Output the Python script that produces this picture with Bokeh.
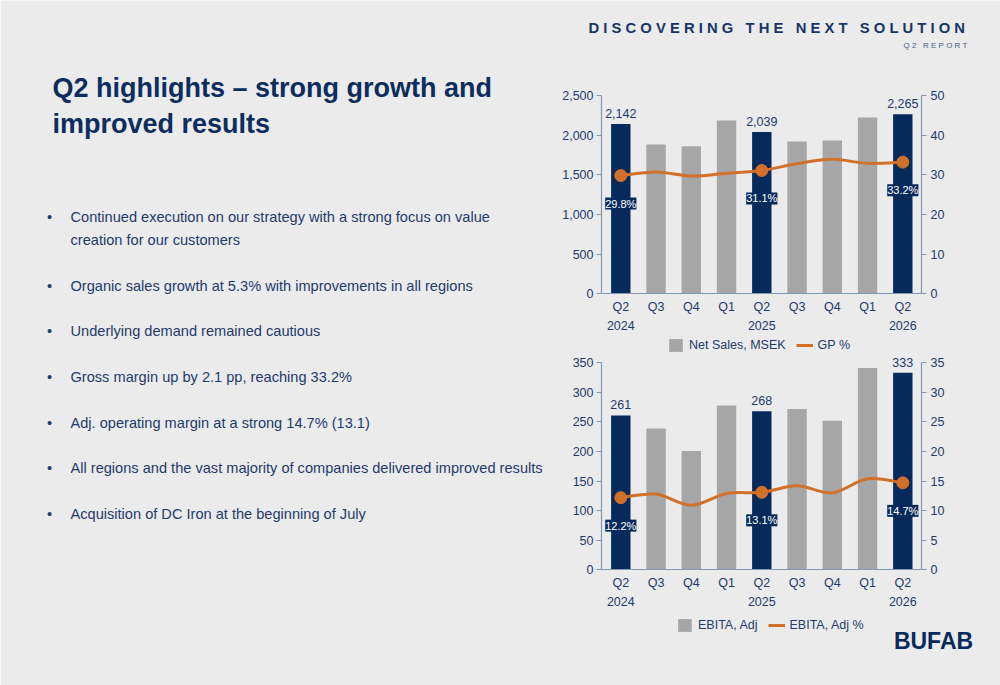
from bokeh.plotting import figure
from bokeh.models import (Range1d, LinearAxis, FixedTicker, NumeralTickFormatter,
                          ColumnDataSource, LabelSet, Legend, LegendItem)
from bokeh.embed import file_html
from bokeh.resources import INLINE
from bokeh.core.properties import value

# ---------------- data ----------------
quarters = ["Q2", "Q3", "Q4", "Q1", "Q2", "Q3", "Q4", "Q1", "Q2"]
years = ["2024", "", "", "", "2025", "", "", "", "2026"]
highlight = [True, False, False, False, True, False, False, False, True]

net_sales = [2142, 1881, 1861, 2185, 2039, 1920, 1933, 2223, 2265]
gp_pct = [29.8, 30.7, 29.7, 30.4, 31.1, 32.8, 33.9, 32.9, 33.2]

ebita_adj = [261, 239, 201, 278, 268, 272, 252, 341, 333]
ebita_pct = [12.2, 12.8, 10.9, 12.9, 13.1, 14.2, 13.0, 15.4, 14.7]

sales_ticks = [0, 500, 1000, 1500, 2000, 2500]
gp_ticks = [0, 10, 20, 30, 40, 50]
ebita_ticks = [0, 50, 100, 150, 200, 250, 300, 350]
ebita_pct_ticks = [0, 5, 10, 15, 20, 25, 30, 35]

title_lines = ["Q2 highlights \u2013 strong growth and", "improved results"]
bullets = [
    ["Continued execution on our strategy with a strong focus on value",
     "creation for our customers"],
    ["Organic sales growth at 5.3% with improvements in all regions"],
    ["Underlying demand remained cautious"],
    ["Gross margin up by 2.1 pp, reaching 33.2%"],
    ["Adj. operating margin at a strong 14.7% (13.1)"],
    ["All regions and the vast majority of companies delivered improved results"],
    ["Acquisition of DC Iron at the beginning of July"],
]
header_text = "DISCOVERING THE NEXT SOLUTION"
sub_header_text = "Q2 REPORT"
logo_text = "BUFAB"

# ---------------- style / layout constants ----------------
W, H = 1000, 685
BG = "#ebebeb"
NAVY = "#062a5c"
GRAY = "#a6a6a6"
ORANGE = "#d2702a"
TITLE_C = "#0c2d5e"
TEXT_C = "#1f3a6b"
AXIS_C = "#8196b3"
FONT = "Liberation Sans"
CH_FS = "12.5px"

X_FIRST, X_STEP = 620.3, 35.25     # page x of first category centre, px per category
AX_L, AX_R = 601.0, 921.0          # page x of the left / right value axes

p = figure(width=W, height=H, x_range=Range1d(0, W), y_range=Range1d(H, 0),
           x_axis_type=None, y_axis_type=None, output_backend="svg",
           toolbar_location=None, min_border=0)
p.background_fill_color = BG
p.border_fill_color = BG
p.outline_line_color = None


def y_range_for(zero_px, top_px, top_val):
    ppu = (zero_px - top_px) / top_val
    return Range1d((zero_px - H) / ppu, zero_px / ppu)


p.extra_x_ranges = {"cx": Range1d(-X_FIRST / X_STEP, (W - X_FIRST) / X_STEP)}
p.extra_y_ranges = {
    "c1v": y_range_for(293.3, 95.0, sales_ticks[-1]),
    "c1p": y_range_for(293.3, 95.0, gp_ticks[-1]),
    "c2v": y_range_for(569.3, 362.3, ebita_ticks[-1]),
    "c2p": y_range_for(569.3, 362.3, ebita_pct_ticks[-1]),
}
LX = (AX_L - X_FIRST) / X_STEP
RX = (AX_R - X_FIRST) / X_STEP

# ---------------- text: title, bullets, header, logo ----------------
p.text(x=[52, 52], y=[87, 123], text=title_lines, text_font=value(FONT),
       text_font_style="bold", text_font_size="27px", text_color=TITLE_C,
       text_baseline="alphabetic", text_align="left")

b_x, b_y, t_x, t_y, t_txt = [], [], [], [], []
yy = 216.5
for item in bullets:
    b_x.append(49)
    b_y.append(yy)
    for k, line in enumerate(item):
        t_x.append(70)
        t_y.append(yy + k * 22.8)
        t_txt.append(line)
    yy += 45.7 + 22.8 * (len(item) - 1)
p.text(x=b_x, y=b_y, text=["\u2022"] * len(b_x), text_font=value(FONT),
       text_font_size="14.6px", text_color=TEXT_C, text_align="center",
       text_baseline="alphabetic")
p.text(x=t_x, y=t_y, text=t_txt, text_font=value(FONT), text_font_size="14.6px",
       text_color=TEXT_C, text_align="left", text_baseline="alphabetic")


def spaced(s):
    # letter-spaced caps, using no-break spaces so that they are not collapsed
    return "\u00a0\u00a0\u00a0".join("\u00a0".join(w) for w in s.split(" "))


p.text(x=[588], y=[27], text=[spaced(header_text)], text_font=value(FONT),
       text_font_style="bold", text_font_size="14.8px", text_color="#163566",
       text_align="left", text_baseline="alphabetic")
p.text(x=[967], y=[45], text=[spaced(sub_header_text)], text_font=value(FONT),
       text_font_size="8px", text_color="#4a6088", text_align="right",
       text_baseline="alphabetic")
p.text(x=[933], y=[640], text=[logo_text], text_font=value(FONT),
       text_font_style="bold", text_font_size="23px", text_color=NAVY,
       text_align="center", text_baseline="middle")


# ---------------- charts ----------------
def catmull_bezier(xs, ys):
    n = len(xs)
    d = {k: [] for k in ["x0", "y0", "x1", "y1", "cx0", "cy0", "cx1", "cy1"]}
    for i in range(n - 1):
        xa, ya = (xs[i - 1], ys[i - 1]) if i > 0 else (xs[i], ys[i])
        xb, yb = xs[i], ys[i]
        xc, yc = xs[i + 1], ys[i + 1]
        xd, yd = (xs[i + 2], ys[i + 2]) if i + 2 < n else (xc, yc)
        d["x0"].append(xb); d["y0"].append(yb)
        d["x1"].append(xc); d["y1"].append(yc)
        d["cx0"].append(xb + (xc - xa) / 6); d["cy0"].append(yb + (yc - ya) / 6)
        d["cx1"].append(xc - (xd - xb) / 6); d["cy1"].append(yc - (yd - yb) / 6)
    return d


def style_axis(ax, standoff, tick_out):
    ax.axis_line_color = AXIS_C
    ax.axis_line_width = 1.2
    ax.major_tick_line_color = AXIS_C
    ax.minor_tick_line_color = None
    ax.major_tick_out = tick_out
    ax.major_tick_in = 0
    ax.major_label_standoff = standoff
    ax.major_label_text_font = FONT
    ax.major_label_text_font_size = CH_FS
    ax.major_label_text_color = TEXT_C


def add_chart(key, bars, pcts, yticks, pticks, bar_name, pct_name, legend_xy):
    vr, pr = key + "v", key + "p"
    idx = list(range(len(quarters)))

    la = LinearAxis(x_range_name="cx", y_range_name=vr, fixed_location=LX,
                    bounds=(0, yticks[-1]), ticker=FixedTicker(ticks=yticks),
                    formatter=NumeralTickFormatter(format="0,0"))
    style_axis(la, 3, 5)
    p.add_layout(la, "left")
    ra = LinearAxis(x_range_name="cx", y_range_name=pr, fixed_location=RX,
                    bounds=(0, pticks[-1]), ticker=FixedTicker(ticks=pticks))
    style_axis(ra, 4, 5)
    p.add_layout(ra, "right")
    xa = LinearAxis(x_range_name="cx", y_range_name=vr, fixed_location=0,
                    bounds=(LX, RX), ticker=FixedTicker(ticks=idx))
    style_axis(xa, 6, 0)
    xa.major_label_overrides = {i: (quarters[i] + "\n" + years[i]) if years[i] else quarters[i]
                                for i in idx}
    xa.major_label_text_line_height = 1.36
    p.add_layout(xa, "below")

    colors = [NAVY if hl else GRAY for hl in highlight]
    bsrc = ColumnDataSource(dict(x=idx, top=bars, color=colors))
    bar_r = p.vbar(x="x", top="top", width=0.55, source=bsrc, fill_color="color",
                   line_color=None, x_range_name="cx", y_range_name=vr)

    p.bezier(source=ColumnDataSource(catmull_bezier(idx, pcts)), x0="x0", y0="y0",
             x1="x1", y1="y1", cx0="cx0", cy0="cy0", cx1="cx1", cy1="cy1",
             line_color=ORANGE, line_width=3, x_range_name="cx", y_range_name=pr)

    hx = [i for i in idx if highlight[i]]
    # one-point line: draws no segment itself, only provides the legend key
    key_line = p.line(x=[hx[0]], y=[pcts[hx[0]]], line_color=ORANGE, line_width=3,
                      x_range_name="cx", y_range_name=pr)
    p.scatter(x=hx, y=[pcts[i] for i in hx], size=12, fill_color=ORANGE,
              line_color=ORANGE, x_range_name="cx", y_range_name=pr)

    lsrc = ColumnDataSource(dict(x=hx, y=[bars[i] for i in hx],
                                 text=[f"{bars[i]:,}" for i in hx]))
    p.add_layout(LabelSet(x="x", y="y", text="text", source=lsrc, y_offset=6,
                          x_range_name="cx", y_range_name=vr,
                          text_align="center", text_baseline="alphabetic",
                          text_font=value(FONT), text_font_size=CH_FS,
                          text_color=TEXT_C))
    psrc = ColumnDataSource(dict(x=hx, y=[pcts[i] for i in hx],
                                 text=[f"{pcts[i]:.1f}%" for i in hx]))
    pl = LabelSet(x="x", y="y", text="text", source=psrc, y_offset=-28,
                  x_range_name="cx", y_range_name=pr, text_align="center",
                  text_baseline="middle", text_font=value(FONT),
                  text_font_size="11px", text_color="white",
                  background_fill_color=NAVY)
    try:
        pl.padding = 1.5
    except Exception:
        pass
    p.add_layout(pl)

    legend = Legend(items=[LegendItem(label=bar_name, renderers=[bar_r], index=1),
                           LegendItem(label=pct_name, renderers=[key_line])],
                    orientation="horizontal", location=legend_xy,
                    glyph_width=17, glyph_height=16, label_standoff=5, spacing=10,
                    padding=0, margin=0, border_line_color=None,
                    background_fill_alpha=0, label_text_font=FONT,
                    label_text_font_size=CH_FS, label_text_color=TEXT_C,
                    label_height=16)
    p.add_layout(legend)


# legend positions: (left px, px from the bottom of the page)
add_chart("c1", net_sales, gp_pct, sales_ticks, gp_ticks,
          "Net Sales, MSEK", "GP %", (667, H - 353))
add_chart("c2", ebita_adj, ebita_pct, ebita_ticks, ebita_pct_ticks,
          "EBITA, Adj", "EBITA, Adj %", (676, H - 633))

open("out.html", "w").write(file_html(p, INLINE))
